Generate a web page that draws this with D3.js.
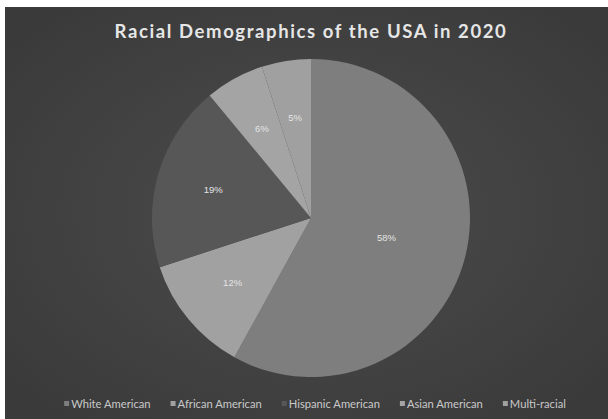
<!DOCTYPE html>
<html>
<head>
<meta charset="utf-8">
<script src="https://cdn.jsdelivr.net/npm/d3@7/dist/d3.min.js"></script>
<style>
  html, body { margin: 0; padding: 0; background: #ffffff; }
  svg { display: block; }
</style>
</head>
<body>
<svg id="chart" width="608" height="419"></svg>
<script>
// Population shares by group, 2020
const categories = ["White American", "African American", "Hispanic American", "Asian American", "Multi-racial"];
const shares = [58, 12, 19, 6, 5];
const sliceColors = ["#7e7e7e", "#a1a1a1", "#575757", "#a4a4a4", "#a0a0a0"];
const titleText = "Racial Demographics of the USA in 2020";

const W = 608, H = 419;
const svg = d3.select("#chart");

// Chart area with a soft radial shading
const defs = svg.append("defs");
const grad = defs.append("radialGradient")
  .attr("id", "bg").attr("cx", "50%").attr("cy", "50%").attr("r", "65%");
grad.append("stop").attr("offset", "0%").attr("stop-color", "#4c4c4c");
grad.append("stop").attr("offset", "100%").attr("stop-color", "#3a3a3a");

svg.append("rect")
  .attr("x", 5).attr("y", 7)
  .attr("width", W - 5).attr("height", H - 7)
  .attr("fill", "url(#bg)");

// Title
svg.append("text")
  .attr("x", 311).attr("y", 38)
  .attr("text-anchor", "middle")
  .attr("font-family", "Lato, 'Open Sans', sans-serif")
  .attr("font-weight", "bold")
  .attr("font-size", 18.5)
  .attr("letter-spacing", 1.6)
  .attr("fill", "#e6e6e6")
  .text(titleText);

// Pie
const cx = 311, cy = 218, R = 159;
const data = categories.map((c, i) => ({ name: c, value: shares[i], color: sliceColors[i] }));
const pie = d3.pie().value(d => d.value).sort(null);
const arcs = pie(data);
const arc = d3.arc().innerRadius(0).outerRadius(R);

const g = svg.append("g").attr("transform", `translate(${cx},${cy})`);
g.selectAll("path.slice")
  .data(arcs)
  .join("path")
  .attr("class", "slice")
  .attr("d", arc)
  .attr("fill", d => d.data.color);

// Percentage labels inside the slices
const total = d3.sum(shares);
g.selectAll("text.pct")
  .data(arcs)
  .join("text")
  .attr("class", "pct")
  .attr("transform", d => {
    const lr = d.data.value / total > 0.5 ? R * 0.49 : R * 0.64;
    const c = d3.arc().innerRadius(lr).outerRadius(lr).centroid(d);
    return `translate(${c[0]},${c[1]})`;
  })
  .attr("text-anchor", "middle")
  .attr("dy", "0.35em")
  .attr("font-family", "'Liberation Sans Narrow', 'Liberation Sans', sans-serif")
  .attr("font-size", 9.5)
  .attr("fill", "#e4e4e4")
  .text(d => d.data.value + "%");

// Legend along the bottom
const legend = svg.append("g").attr("transform", "translate(0,408)");
const items = legend.selectAll("g.item")
  .data(data)
  .join("g")
  .attr("class", "item");
items.append("rect")
  .attr("y", -7).attr("width", 5).attr("height", 5)
  .attr("fill", d => d.color);
const labels = items.append("text")
  .attr("x", 7)
  .attr("font-family", "Lato, 'Liberation Sans', sans-serif")
  .attr("font-size", 11.2)
  .attr("fill", "#c9c9c9")
  .text(d => d.name);

const gap = 20;
const widths = labels.nodes().map(n => 7 + n.getComputedTextLength());
const totalW = d3.sum(widths) + gap * (widths.length - 1);
let x0 = 315 - totalW / 2;
items.attr("transform", (d, i) => {
  const x = x0;
  x0 += widths[i] + gap;
  return `translate(${x},0)`;
});
</script>
</body>
</html>
